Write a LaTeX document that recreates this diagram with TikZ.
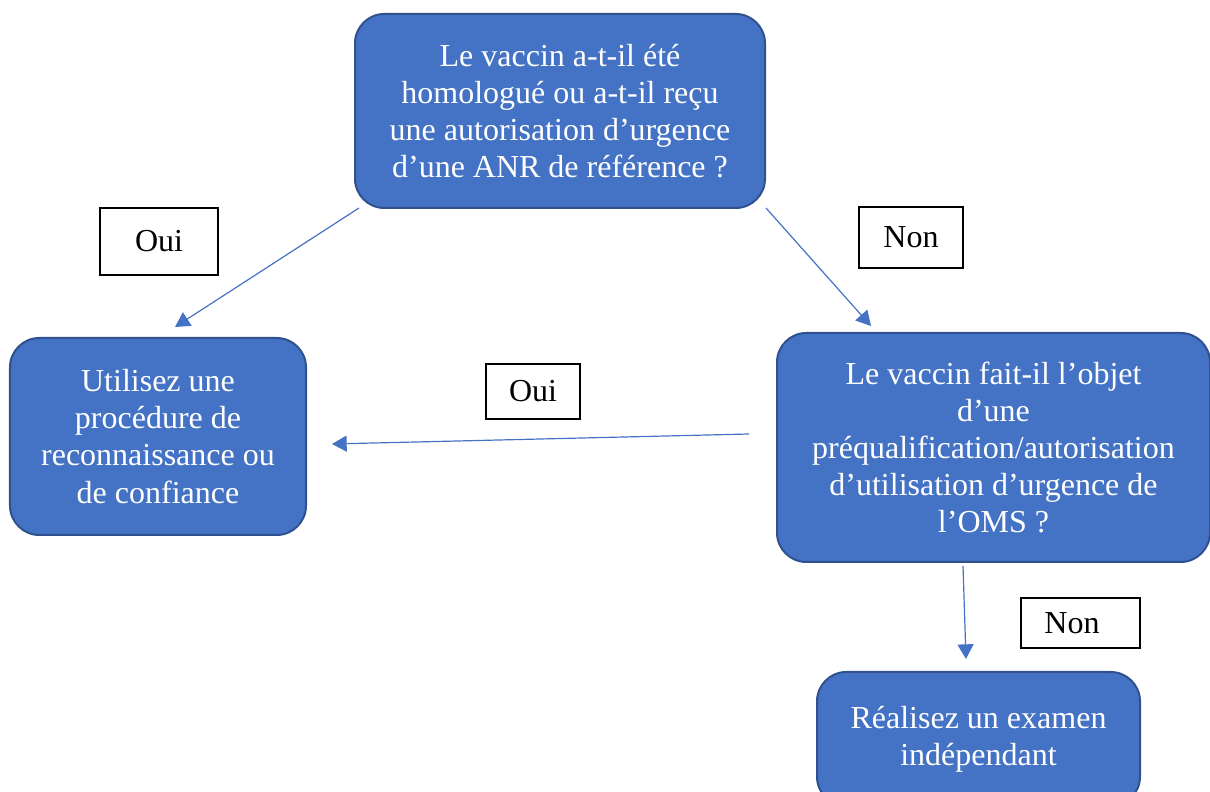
\documentclass[tikz,border=0pt]{standalone}
\usepackage{fontspec}
\setmainfont{Liberation Serif}
\usetikzlibrary{positioning}
\usetikzlibrary{calc}
\usetikzlibrary{arrows.meta}
\definecolor{boxblue}{HTML}{4472C4}
\definecolor{boxline}{HTML}{2F528F}
\tikzset{
    step box/.style = {rectangle, rounded corners=22pt, draw=boxline, line width=1.5pt, fill=boxblue, text=white, align=center, inner sep=0pt, font=\fontsize{24}{27.8}\selectfont},
    answer/.style = {rectangle, draw=black, line width=0.8pt, fill=white, inner sep=0pt, font=\fontsize{24}{27}\selectfont},
    flow/.style = {-{Triangle[length=11pt,width=12pt]}, draw=boxblue, line width=0.9pt},
}

\begin{document}
\begin{tikzpicture}[x=75pt,y=75pt]
\useasboundingbox (0,0) rectangle (12.10,7.92);
\node[step box, minimum width=4.10*75pt, minimum height=1.94*75pt] at (5.60, 6.81) (q1) {Le vaccin a-t-il été\\homologué ou a-t-il reçu\\une autorisation d’urgence\\d’une ANR de référence ?};
\node[step box, minimum width=2.96*75pt, minimum height=1.97*75pt] at (1.58, 3.555) (use) {Utilisez une\\procédure de\\reconnaissance ou\\de confiance};
\node[step box, minimum width=4.33*75pt, minimum height=2.29*75pt] at (9.935, 3.445) (q2) {Le vaccin fait-il l’objet\\d’une\\préqualification/autorisation\\d’utilisation d’urgence de\\l’OMS ?};
\node[step box, minimum width=3.23*75pt, minimum height=1.34*75pt] at (9.785, 0.53) (exam) {Réalisez un examen\\indépendant};
%
\node[answer, minimum width=1.18*75pt, minimum height=0.67*75pt] at (1.59, 5.505) (yes1) {Oui};
\node[answer, minimum width=1.04*75pt, minimum height=0.61*75pt] at (9.11, 5.545) (no1) {Non};
\node[answer, minimum width=0.94*75pt, minimum height=0.55*75pt] at (5.33, 4.005) (yes2) {Oui};
\node[answer, minimum width=1.19*75pt, minimum height=0.50*75pt] at (10.805, 1.69) (no2) {\hspace*{-0.45cm}Non};
%
\draw[flow] ($(q1.south west)+(0.05,0.01)$) -- ($(use.north)+(0.17,0.10)$);
\draw[flow] ($(q1.south east)+(0,0.01)$) -- ($(q2.north west)+(0.95,0.06)$);
\draw[flow] ($(q2.west)+(-0.27,0.135)$) -- ($(use.east)+(0.25,-0.075)$);
\draw[flow] ($(q2.south)+(-0.305,-0.03)$) -- ($(exam.north)+(-0.125,0.12)$);
\end{tikzpicture}
\end{document}
